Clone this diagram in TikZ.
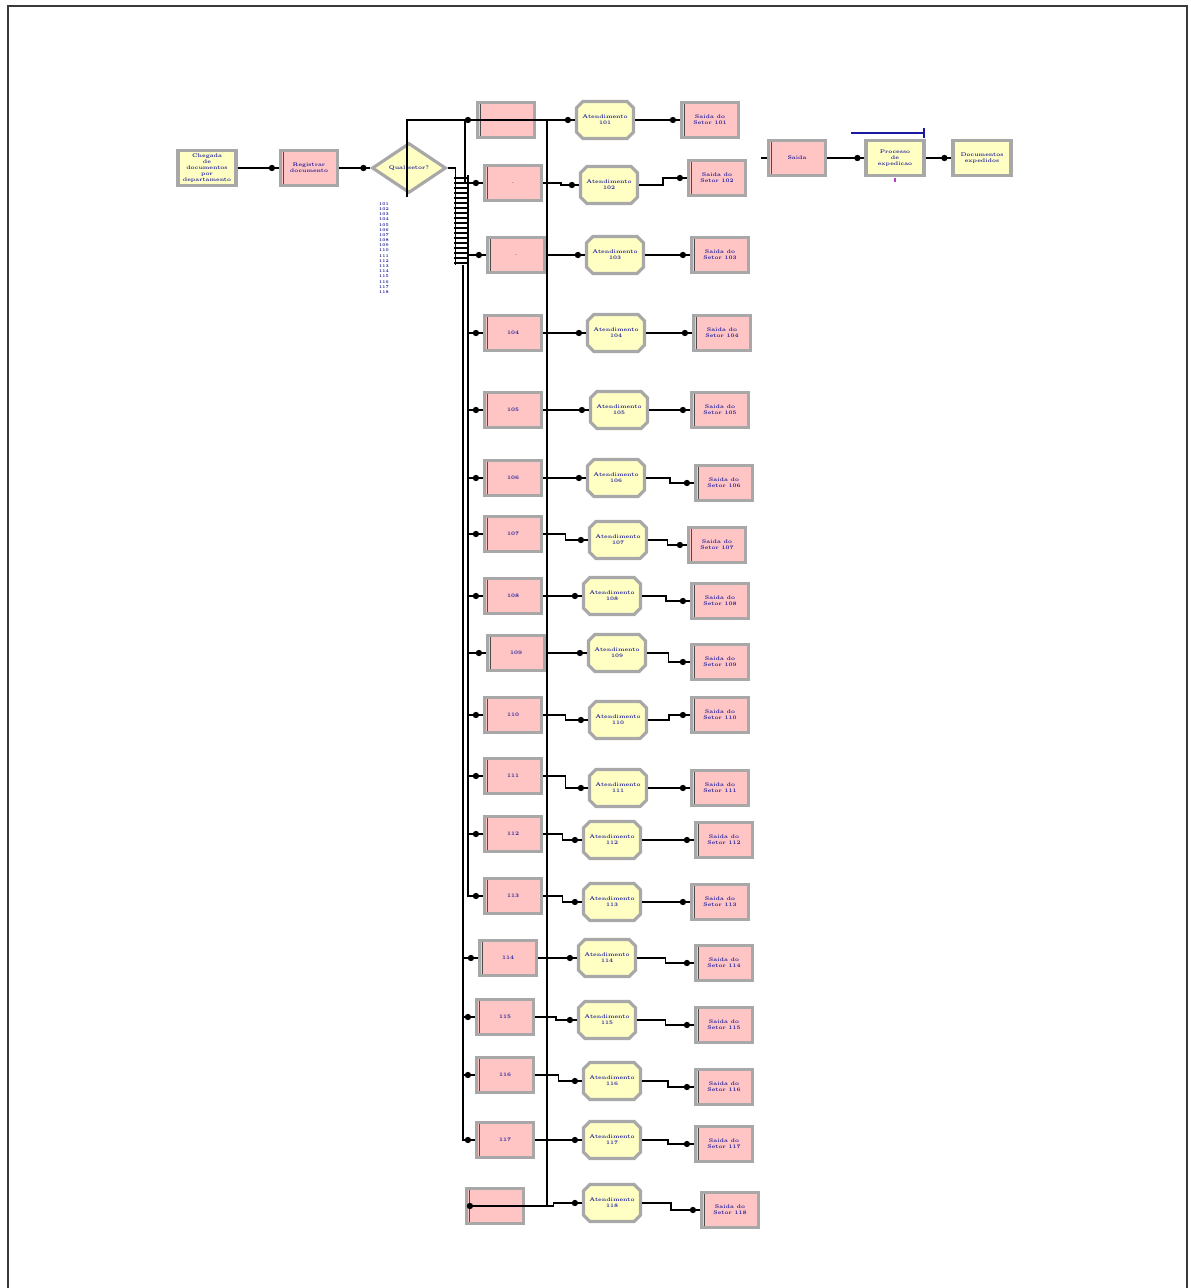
\documentclass[tikz,border=0pt]{standalone}
\usepackage{tikz}
\usetikzlibrary{arrows.meta,calc,positioning,shapes.geometric,shapes.misc}
\definecolor{modpink}{HTML}{FFC4C4}
\definecolor{modyellow}{HTML}{FFFFC4}
\definecolor{modedge}{HTML}{A8A8A8}
\definecolor{modtext}{HTML}{1E1E9A}
\definecolor{framegray}{HTML}{3A3A3A}
\definecolor{queueblue}{HTML}{1A1AA0}
\definecolor{tickmag}{HTML}{B040C0}
\tikzset{
  framebox/.style={framegray, line width=1.3pt},
  flow/.style={black, line width=1pt},
  rung/.style={black, line width=0.8pt},
  entrydot/.style={circle, fill=black, inner sep=0pt, minimum size=3.6pt},
  modfont/.style={font=\fontsize{3}{3.5}\selectfont\bfseries, text=modtext, align=center},
  pinkbox/.style={modfont, draw=modedge, fill=modpink, line width=1.8pt, minimum width=1.14cm, minimum height=0.70cm, inner sep=1pt,
    path picture={\draw[gray!60!black, line width=0.5pt] ([xshift=1.5pt]path picture bounding box.south west) -- ([xshift=1.5pt]path picture bounding box.north west);}},
  procbox/.style={modfont, chamfered rectangle, chamfered rectangle xsep=1.8pt, chamfered rectangle ysep=1.8pt, draw=modedge, fill=modyellow, line width=1.8pt, minimum width=1.14cm, minimum height=0.74cm, inner sep=1pt},
  yellowbox/.style={modfont, draw=modedge, fill=modyellow, line width=1.8pt, minimum width=1.16cm, minimum height=0.70cm, inner sep=1pt},
  decidebox/.style={modfont, diamond, draw=modedge, fill=modyellow, line width=1.8pt, minimum width=1.48cm, minimum height=1cm, inner sep=0pt},
  condlist/.style={font=\fontsize{2.4}{2.95}\selectfont\bfseries, text=modtext, align=center, inner sep=0pt}
}

\begin{document}
\begin{tikzpicture}[x=0.02cm, y=-0.02cm]
  \useasboundingbox (0,0) rectangle (1190,1288);
  \draw[framebox] (8,1288) -- (8,6) -- (1187,6) -- (1187,1288);

  \node[yellowbox] (arr) at (207,168) {Chegada\\de\\documentos\\por\\departamento};
  \node[pinkbox] (reg) at (309,168) {Registrar\\documento};
  \node[decidebox] (dec) at (409,168) {Qual setor?};
  \node[condlist] (conds) at (384,248) {101\\102\\103\\104\\105\\106\\107\\108\\109\\110\\111\\112\\113\\114\\115\\116\\117\\118};
  \draw[flow] (arr.east) -- ($(reg.west)+(-7,0)$) node[entrydot]{} -- (reg.west);
  \draw[flow] (reg.east) -- ($(dec.west)+(-7,0)$) node[entrydot]{} -- (dec.west);

  \foreach \i/\xa/\ya/\xp/\yp/\xq/\yq/\tag in {
    1/506/120/605/120/710/120/.,
    2/513/183/609/185/717/178/.,
    3/516/255/615/255/720/255/.,
    4/513/333/616/333/722/333/104,
    5/513/410/619/410/720/410/105,
    6/513/478/616/478/724/483/106,
    7/513/534/618/540/717/545/107,
    8/513/596/612/596/720/601/108,
    9/516/653/617/653/720/662/109,
    10/513/715/618/720/720/715/110,
    11/513/776/618/788/720/788/111,
    12/513/834/612/840/724/840/112,
    13/513/896/612/902/720/902/113,
    14/508/958/607/958/724/963/114,
    15/505/1017/607/1020/724/1025/115,
    16/505/1075/612/1081/724/1087/116,
    17/505/1140/612/1140/724/1144/117,
    18/495/1206/612/1203/730/1210/{}}{
    \pgfmathtruncatemacro{\num}{100+\i}
    \node[pinkbox] (a\i) at (\xa,\ya) {\tag};
    \node[procbox] (p\i) at (\xp,\yp) {Atendimento\\\num};
    \node[pinkbox] (q\i) at (\xq,\yq) {Saida do\\Setor \num};
    \draw[flow] (a\i.east) -| ($(a\i.east)!0.5!(p\i.west)$) |- ($(p\i.west)+(-7,0)$) node[entrydot]{} -- (p\i.west);
    \draw[flow] (p\i.east) -| ($(p\i.east)!0.5!(q\i.west)$) |- ($(q\i.west)+(-7,0)$) node[entrydot]{} -- (q\i.west);
  }

  \coordinate (elsept) at (407,197);
  \coordinate (busR) at (547,0);
  \coordinate (busT) at (465,0);
  \coordinate (busA) at (468,0);
  \coordinate (busB) at (463,0);
  \draw[flow] (elsept) |- (busR |- a1) -- (busR |- a18) -- ($(a18.west)+(5,0)$) node[entrydot]{};
  \node[entrydot] (in1) at ($(a1.west)+(-8,0)$) {};
  \draw[flow] (busT |- a1) |- ($(a2.west)+(-7,0)$) node[entrydot]{} -- (a2.west);

  \draw[flow] (dec.east) -- ++(8,0) -- ++(0,97);
  \foreach \k in {0,...,17}
    \draw[rung] (454,{178+5*\k}) -- (469,{178+5*\k});
  \draw[flow] (busA |- 0,175) |- ($(a13.west)+(-7,0)$) node[entrydot]{} -- (a13.west);
  \foreach \i in {3,...,12}
    \draw[flow] (busA |- a\i) -- ($(a\i.west)+(-7,0)$) node[entrydot]{} -- (a\i.west);
  \draw[flow] (busB |- 0,265) |- ($(a17.west)+(-7,0)$) node[entrydot]{} -- (a17.west);
  \foreach \i in {14,15,16}
    \draw[flow] (busB |- a\i) -- ($(a\i.west)+(-7,0)$) node[entrydot]{} -- (a\i.west);

  \node[pinkbox] (out) at (797,158) {Saida};
  \node[yellowbox] (exped) at (895,158) {Processo\\de\\expedicao};
  \node[yellowbox] (fim) at (982,158) {Documentos\\expedidos};
  \coordinate (outin) at ($(out.west)+(-6,0)$);
  \draw[flow] (outin) -- (out.west);
  \draw[flow] (out.east) -- ($(exped.west)+(-7,0)$) node[entrydot]{} -- (exped.west);
  \draw[flow] (exped.east) -- ($(fim.west)+(-7,0)$) node[entrydot]{} -- (fim.west);
  \draw[queueblue, line width=1pt] (851,133) -- (924,133);
  \draw[queueblue, line width=1pt] (924,128) -- (924,138);
  \draw[tickmag, line width=0.6pt] (895,178) -- (895,182);
\end{tikzpicture}
\end{document}
